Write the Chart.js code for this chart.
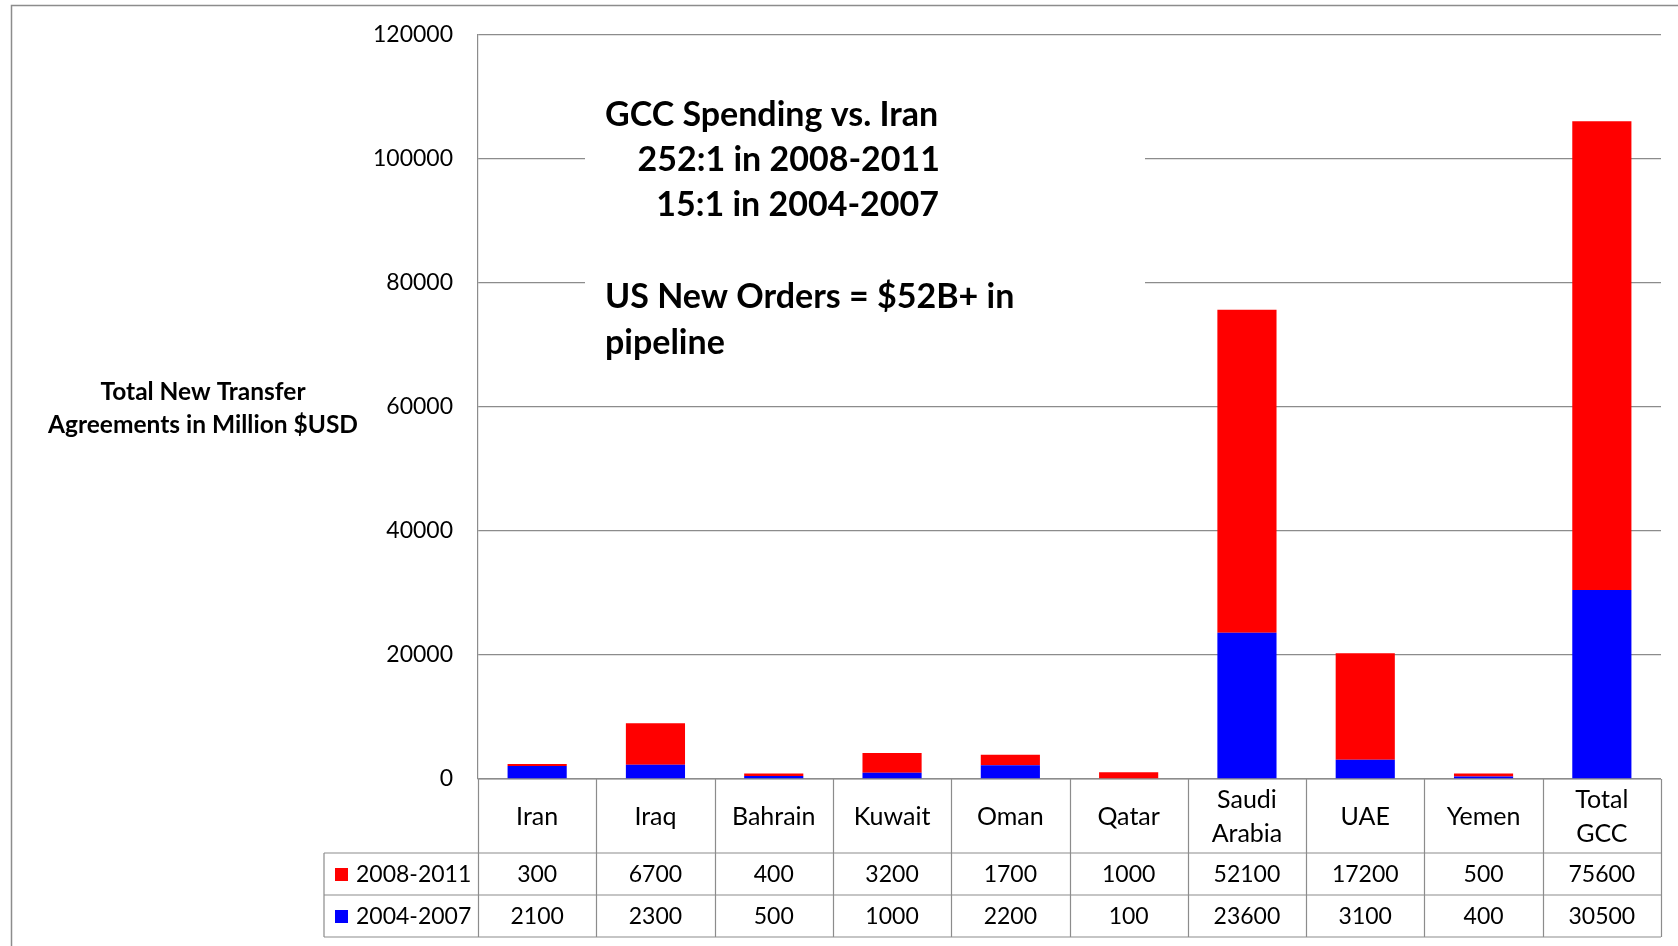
<!DOCTYPE html>
<html>
<head>
<meta charset="utf-8">
<script src="https://cdn.jsdelivr.net/npm/chart.js@4.4.0/dist/chart.umd.min.js"></script>
<style>
  html, body { margin: 0; padding: 0; background: #fff; }
  canvas { display: block; }
</style>
</head>
<body>
<canvas id="transfers" width="1678" height="946"></canvas>
<script>
(function () {
    "use strict";

    // arms transfer agreements, million USD
    const countries = [['Iran'], ['Iraq'], ['Bahrain'], ['Kuwait'], ['Oman'], ['Qatar'],
        ['Saudi', 'Arabia'], ['UAE'], ['Yemen'], ['Total', 'GCC']];
    const seriesLabels = ['2008-2011', '2004-2007'];
    const orders2008to2011 = [300, 6700, 400, 3200, 1700, 1000, 52100, 17200, 500, 75600];
    const orders2004to2007 = [2100, 2300, 500, 1000, 2200, 100, 23600, 3100, 400, 30500];
    const yMax = 120000;
    const yStep = 20000;

    const axisTitle = ['Total New Transfer', 'Agreements in Million $USD'];
    const noteTop = ['GCC Spending vs. Iran', '252:1 in 2008-2011', '15:1 in 2004-2007'];
    const noteBottom = ['US New Orders = $52B+ in', 'pipeline'];

    const RED = '#ff0000';
    const BLUE = '#0000ff';
    const LINE = '#8c8c8c';
    const FONT = 'Lato, "Open Sans", sans-serif';

    // table rows under the plot: label row, then one row per series
    const headerRowH = 74;
    const dataRowH = 42;
    const legendLeft = 324;
    const labelLineH = 34;

    var extras = {
        id: 'extras',
        beforeDraw: function (chart) {
            var c = chart.ctx;
            c.save();
            c.fillStyle = '#fff';
            c.fillRect(0, 0, chart.width, chart.height);
            c.strokeStyle = LINE;
            c.lineWidth = 1.5;
            c.strokeRect(11.5, 5.5, chart.width + 20, chart.height + 20);
            c.restore();
        },
        afterDraw: function (chart) {
            var c = chart.ctx;
            var x = chart.scales.x;
            var area = chart.chartArea;
            var n = countries.length;
            var colW = (x.right - x.left) / n;
            var y0 = area.bottom;
            var y1 = y0 + headerRowH;
            var y2 = y1 + dataRowH;
            var y3 = y2 + dataRowH;

            c.save();
            c.strokeStyle = LINE;
            c.lineWidth = 1.2;
            c.beginPath();
            // horizontal rules
            c.moveTo(x.left, y0); c.lineTo(x.right, y0);
            [y1, y2, y3].forEach(function (yy) {
                c.moveTo(legendLeft, yy); c.lineTo(x.right, yy);
            });
            // column rules
            for (var k = 0; k <= n; k++) {
                var xx = Math.round(x.left + k * colW) + 0.5;
                c.moveTo(xx, y0); c.lineTo(xx, y3);
            }
            c.moveTo(legendLeft, y1); c.lineTo(legendLeft, y3);
            c.stroke();

            c.fillStyle = '#000';
            c.textAlign = 'center';
            c.textBaseline = 'middle';

            // category names in the header row
            c.font = '25px ' + FONT;
            var mid = (y0 + y1) / 2;
            countries.forEach(function (lines, i) {
                var cx = x.getPixelForValue(i);
                var top = mid - (lines.length - 1) * labelLineH / 2;
                lines.forEach(function (s, j) {
                    c.fillText(s, cx, top + j * labelLineH + 1);
                });
            });

            // values
            c.font = '23px ' + FONT;
            var rows = [
                { label: seriesLabels[0], color: RED, values: orders2008to2011, y: (y1 + y2) / 2 },
                { label: seriesLabels[1], color: BLUE, values: orders2004to2007, y: (y2 + y3) / 2 }
            ];
            rows.forEach(function (row) {
                row.values.forEach(function (v, i) {
                    c.fillText(String(v), x.getPixelForValue(i), row.y + 1);
                });
                c.fillStyle = row.color;
                c.fillRect(legendLeft + 11, row.y - 6, 13, 13);
                c.fillStyle = '#000';
                c.textAlign = 'left';
                c.fillText(row.label, legendLeft + 32, row.y + 1);
                c.textAlign = 'center';
            });

            // y axis title
            c.font = 'bold 24.5px ' + FONT;
            c.fillText(axisTitle[0], 203, 392);
            c.fillText(axisTitle[1], 203, 425);

            // annotation box
            c.fillStyle = '#fff';
            c.fillRect(585, 92, 560, 275);
            c.fillStyle = '#000';
            c.font = 'bold 34px ' + FONT;
            c.textAlign = 'left';
            c.fillText(noteTop[0], 605, 115);
            c.textAlign = 'right';
            c.fillText(noteTop[1], 940, 160);
            c.fillText(noteTop[2], 939, 205);
            c.textAlign = 'left';
            c.fillText(noteBottom[0], 605, 297);
            c.fillText(noteBottom[1], 605, 343);
            c.restore();
        }
    };

    var ctx = document.getElementById('transfers').getContext('2d');
    var chart = new Chart(ctx, {
        type: 'bar',
        data: {
            labels: countries,
            datasets: [{
                label: seriesLabels[1],
                backgroundColor: BLUE,
                data: orders2004to2007
            }, {
                label: seriesLabels[0],
                backgroundColor: RED,
                data: orders2008to2011
            }]
        },
        options: {
            responsive: false,
            animation: false,
            layout: { padding: { top: 35, right: 17, left: 0, bottom: 0 } },
            datasets: {
                bar: { categoryPercentage: 1.0, barPercentage: 0.5 }
            },
            plugins: {
                legend: { display: false },
                tooltip: { enabled: false }
            },
            scales: {
                x: {
                    stacked: true,
                    grid: { display: false, drawTicks: false },
                    border: { display: false },
                    ticks: { display: false },
                    afterFit: function (scale) { scale.height = 167; }
                },
                y: {
                    stacked: true,
                    min: 0,
                    max: yMax,
                    grid: { color: LINE, lineWidth: 1.2, drawTicks: false },
                    border: { display: true, color: LINE, width: 1.2 },
                    ticks: {
                        stepSize: yStep,
                        color: '#000',
                        padding: 25,
                        font: { family: FONT, size: 23 },
                        callback: function (v) { return String(v); }
                    },
                    afterFit: function (scale) {
                        scale.width = 478;
                        scale.paddingTop = 0;
                        scale.paddingBottom = 0;
                    }
                }
            }
        },
        plugins: [extras]
    });
})();
</script>
</body>
</html>
